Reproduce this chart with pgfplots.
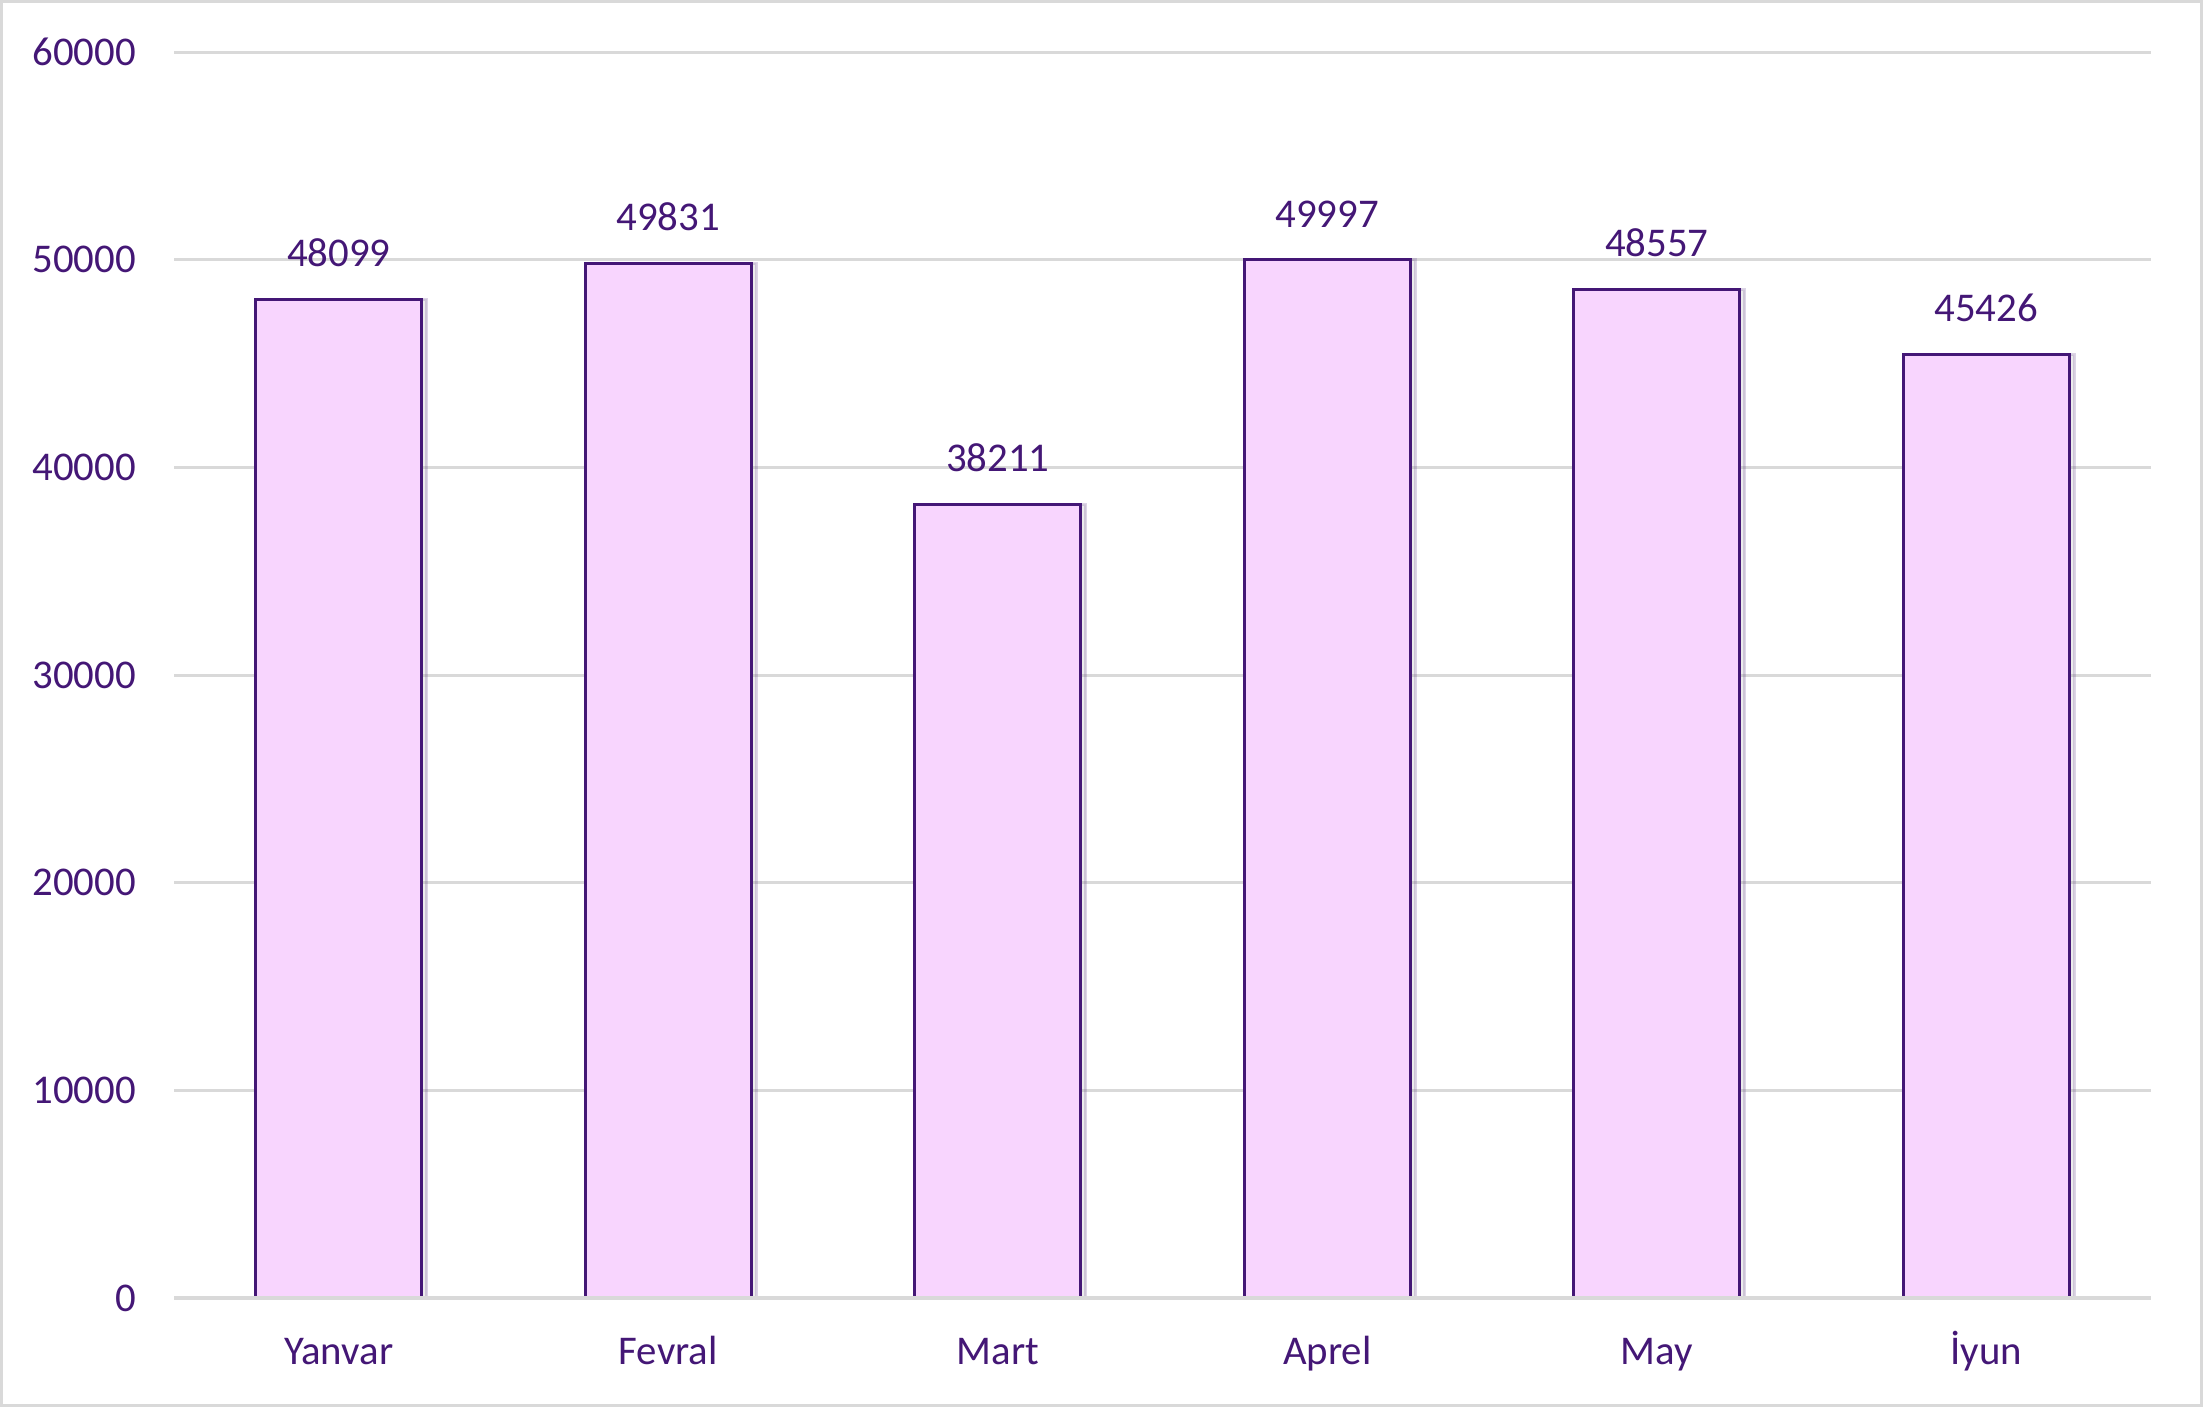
\documentclass[border=0pt]{standalone}
\usepackage{pgfplots}
\pgfplotsset{compat=1.18}
\usepackage{fontspec}
\setmainfont{Carlito}
\definecolor{txt}{HTML}{441776}
\definecolor{barfill}{HTML}{F8D5FE}
\definecolor{gridgray}{HTML}{D9D9D9}
\begin{document}
\begin{tikzpicture}
\useasboundingbox (0,0) rectangle (550.75pt,351.75pt);
\fill[white] (0,0) rectangle (550.75pt,351.75pt);
\draw[gridgray, line width=0.8pt] (0.4pt,0.4pt) rectangle (550.35pt,351.35pt);
\begin{axis}[
  at={(43.5pt,27.25pt)}, anchor=south west,
  scale only axis, width=494.25pt, height=311.5pt,
  ybar, bar width=41.5pt,
  xmin=-0.5, xmax=5.5, ymin=0, ymax=60000,
  xtick=data,
  xticklabels={Yanvar,Fevral,Mart,Aprel,May,İyun},
  ytick={0,10000,...,60000},
  scaled y ticks=false,
  /pgf/number format/1000 sep={},
  /pgf/number format/assume math mode=true,
  axis line style={draw=none},
  major tick length=0pt,
  ymajorgrids, grid style={draw=gridgray, line width=0.75pt},
  tick label style={font=\fontsize{10.2}{12}\selectfont, text=txt},
  yticklabel style={xshift=-6pt},
  xticklabel style={anchor=north, text height=8pt, text depth=2pt, yshift=-5.15pt},
  nodes near coords,
  every node near coord/.append style={font=\fontsize{10.2}{12}\selectfont, text=txt, yshift=4.4pt, /pgf/number format/1000 sep={}, /pgf/number format/assume math mode=true},
  clip=false,
]
\addplot[fill=barfill, draw=txt, line width=0.75pt,
  preaction={fill=black!40, opacity=0.18, transform canvas={xshift=1.3pt}}]
  coordinates {(0,48099) (1,49831) (2,38211) (3,49997) (4,48557) (5,45426)};
\draw[gridgray, line width=1.1pt] (axis cs:-0.5,0) -- (axis cs:5.5,0);
\end{axis}
\end{tikzpicture}
\end{document}
